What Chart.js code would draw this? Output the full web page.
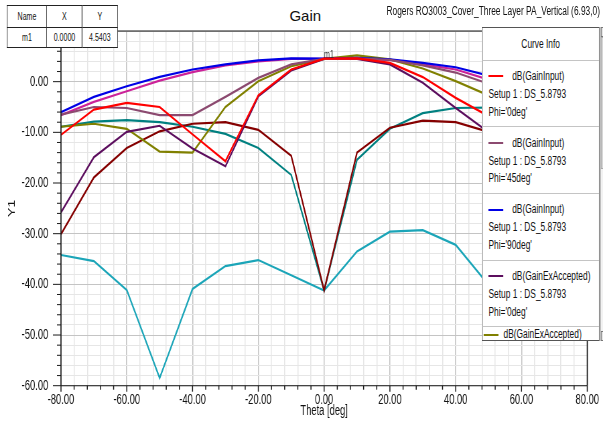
<!DOCTYPE html>
<html><head><meta charset="utf-8">
<script src="https://cdn.jsdelivr.net/npm/chart.js@4/dist/chart.umd.min.js"></script>
<style>
html,body{margin:0;padding:0;background:#fff;overflow:hidden;width:603px;height:423px;}
#wrap{position:absolute;left:0;top:0;width:900px;height:423px;transform:scaleX(0.67);transform-origin:0 0;font-family:"Liberation Sans",Arial,sans-serif;}
#cbox{position:absolute;left:0;top:0;width:900px;height:423px;}
#title{position:absolute;left:305.3px;top:6.5px;transform:translateX(-50%);font:15px/18px "Liberation Sans",Arial,sans-serif;color:#111;white-space:nowrap;}
#sub{position:absolute;right:4.5px;top:4.3px;font-size:12.5px;line-height:15px;color:#111;white-space:nowrap;}
#mk{position:absolute;left:10.4px;top:5px;border-collapse:collapse;table-layout:fixed;background:#fff;font-size:10.5px;}
#mk td{border:1px solid #222;border-left-width:1.5px;border-right-width:1.5px;text-align:center;padding:0;color:#111;line-height:12px;}
#mk tr.h td{height:20.7px;}
#mk tr.r td{height:19.6px;}
#m1{position:absolute;left:491px;top:47.5px;transform:translateX(-50%);font-size:10.5px;line-height:12px;color:#333;}
#leg{position:absolute;left:719px;top:26.7px;width:176px;height:314px;box-sizing:border-box;border:1px solid #555;border-left-width:1.5px;background:#fff;overflow:hidden;}
#leg .tx{position:absolute;white-space:nowrap;font-size:12.5px;line-height:15px;color:#111;}
#leg .sep{position:absolute;left:0;right:0;height:0;border-top:1px solid #c4c4c4;}
#leg .sw{position:absolute;height:2px;width:22.4px;}
#sb{position:absolute;left:894.5px;top:26.7px;width:12px;height:314px;box-sizing:border-box;background:#f2f2f2;border-left:1.5px solid #555;}
#sb .th{position:absolute;left:1px;right:0;top:10px;height:130px;background:#d6d6d6;border:1px solid #aaa;}
#sb .ar{position:absolute;left:1px;right:0;height:8px;background:#e6e6e6;border:1px solid #777;}
</style></head>
<body>
<div id="title">Gain</div>
<div id="wrap">
  <div id="cbox"><canvas id="c"></canvas></div>
  <div id="sub">Rogers RO3003_Cover_Three Layer PA_Vertical (6.93,0)</div>
  <table id="mk">
    <colgroup><col style="width:58.7px"><col style="width:53.3px"><col style="width:52.2px"></colgroup>
    <tr class="h"><td>Name</td><td>X</td><td>Y</td></tr>
    <tr class="r"><td>m1</td><td>0.0000</td><td>4.5403</td></tr>
  </table>
  <div id="m1">m1</div>
  <div id="leg"></div>
  <div id="sb"><div class="ar" style="top:0"></div><div class="th"></div><div class="ar" style="bottom:0"></div></div>
</div>
<script>
// ---- data ----
const theta = [-80,-70,-60,-50,-40,-30,-20,-10,0,10,20,30,40,50,60,70,80];
const gainInputPhi0  = [-10.5,-5.5,-4.2,-5.0,-10.4,-15.7,-2.7,2.4,4.54,4.6,3.7,0.9,-3.2,-6.8,-9.0,-7.0,-10.0];
const gainInputPhi45 = [-6.5,-5.0,-5.2,-6.6,-6.6,-3.0,0.75,3.4,4.5,4.6,4.3,3.2,1.8,-0.4,-3.0,-5.5,-6.5];
const gainInputPhi90 = [-6.0,-3.0,-0.9,0.95,2.4,3.4,4.2,4.6,4.54,4.7,4.4,3.7,2.85,1.2,-0.9,-3.0,-6.0];
const gainExAccPhi0  = [-25.8,-14.9,-9.9,-8.7,-13.2,-16.7,-2.9,2.2,4.5,4.5,3.4,-0.2,-5.2,-10.0,-13.0,-15.0,-26.0];
const gainExAccPhi45 = [-8.9,-8.3,-9.3,-13.8,-14.0,-5.0,0.1,3.05,4.5,5.2,4.4,2.6,0.1,-2.7,-6.0,-9.0,-9.0];
const gainExAccPhi90 = [-6.6,-4.0,-1.9,0.2,1.9,3.2,4.0,4.5,4.5,4.6,4.3,3.4,2.4,0.4,-1.5,-4.0,-6.6];
const curve7 = [-30.1,-18.9,-13.1,-9.8,-8.3,-8.0,-9.5,-14.6,-41.2,-14.0,-9.1,-7.7,-8.0,-9.9,-12.0,-18.0,-30.0];
const curve8 = [-8.9,-7.9,-7.6,-8.0,-8.9,-10.3,-13.1,-18.4,-41.2,-15.4,-9.3,-6.2,-5.2,-5.1,-5.5,-7.0,-8.9];
const curve9 = [-34.2,-35.4,-41.1,-58.5,-40.9,-36.4,-35.2,-38.2,-41.2,-33.5,-29.6,-29.3,-32.2,-40.1,-41.0,-36.0,-34.0];

const seriesNames = ["dB(GainInput) Phi='0deg'","dB(GainInput) Phi='45deg'","dB(GainInput) Phi='90deg'",
  "dB(GainExAccepted) Phi='0deg'","dB(GainExAccepted) Phi='45deg'","dB(GainExAccepted) Phi='90deg'",
  "curve 7","curve 8","curve 9"];
const seriesValues = [gainInputPhi0,gainInputPhi45,gainInputPhi90,gainExAccPhi0,gainExAccPhi45,gainExAccPhi90,curve7,curve8,curve9];
const seriesColors = ['#ff0000','#8c4a70','#0000e6','#5c0e5e','#808000','#cc2299','#850000','#008080','#1ba5b8'];

const legendEntries = [
  ['dB(GainInput)','Setup 1 : DS_5.8793',"Phi='0deg'",'#ff0000'],
  ['dB(GainInput)','Setup 1 : DS_5.8793',"Phi='45deg'",'#8c4a70'],
  ['dB(GainInput)','Setup 1 : DS_5.8793',"Phi='90deg'",'#0000e6'],
  ['dB(GainExAccepted)','Setup 1 : DS_5.8793',"Phi='0deg'",'#5c0e5e']
];

// ---- legend box (HTML) ----
const leg = document.getElementById('leg');
function addText(txt, left, top, center){
  const d = document.createElement('div'); d.className='tx'; d.textContent = txt;
  d.style.top = top+'px';
  if(center){ d.style.left='50%'; d.style.transform='translateX(-50%)'; } else d.style.left = left+'px';
  leg.appendChild(d); return d;
}
function addSep(top){ const s=document.createElement('div'); s.className='sep'; s.style.top=top+'px'; leg.appendChild(s); }
function addSw(left, top, color){ const s=document.createElement('div'); s.className='sw'; s.style.left=left+'px'; s.style.top=top+'px'; s.style.background=color; leg.appendChild(s); }
addText('Curve Info',0,9.5,true);
legendEntries.forEach((e,i)=>{
  const t0 = 32 + 66.7*i;
  addSep(t0);
  addSw(9, t0+15.5, e[3]);
  addText(e[0], 44.5, t0+9.3);
  addText(e[1], 9, t0+27.3);
  addText(e[2], 9, t0+45);
});
addSep(32+66.7*4);
addSw(2, 32+66.7*4+7.2, '#808000');
addText('dB(GainExAccepted)', 31.5, 32+66.7*4+0.7);

// ---- chart ----
const framePlugin = {
  id:'frame',
  afterDatasetsDraw(chart){
    const {ctx, chartArea:a, scales:{x,y}} = chart;
    ctx.save();
    ctx.strokeStyle = '#1a1a1a';
    ctx.lineWidth = 1.1;
    ctx.beginPath();
    ctx.moveTo(a.left,a.top); ctx.lineTo(a.right,a.top);
    ctx.moveTo(a.left,a.bottom); ctx.lineTo(a.right,a.bottom);
    ctx.stroke();
    ctx.lineWidth = 1.6;
    ctx.beginPath();
    ctx.moveTo(a.left,a.top); ctx.lineTo(a.left,a.bottom);
    ctx.moveTo(a.right,a.top); ctx.lineTo(a.right,a.bottom);
    ctx.stroke();
    ctx.lineWidth = 1;
    y.ticks.forEach(t=>{
      const py = y.getPixelForValue(t.value);
      const len = (t.value % 10 === 0) ? 12 : 6;
      ctx.beginPath(); ctx.moveTo(a.left-len, py); ctx.lineTo(a.left, py); ctx.stroke();
    });
    ctx.lineWidth = 1.5;
    x.ticks.forEach(t=>{
      const px = x.getPixelForValue(t.value);
      const len = (t.value % 20 === 0) ? 6 : 4;
      ctx.beginPath(); ctx.moveTo(px, a.bottom); ctx.lineTo(px, a.bottom+len); ctx.stroke();
    });
    ctx.restore();
  }
};

const datasets = seriesValues.map((vals,i)=>({
  label: seriesNames[i],
  data: theta.map((t,k)=>({x:t, y:vals[k]})),
  borderColor: seriesColors[i],
  backgroundColor: seriesColors[i],
  borderWidth: 2.2,
  pointRadius: 0,
  tension: 0,
  fill: false
}));

Chart.defaults.font.family = '"Liberation Sans", Arial, sans-serif';
new Chart(document.getElementById('c'), {
  type: 'line',
  data: { datasets },
  plugins: [framePlugin],
  options: {
    responsive: true,
    maintainAspectRatio: false,
    animation: false,
    layout: { padding: { top: 31, right: 19.4, bottom: 0, left: 0 } },
    plugins: { legend: { display: false }, tooltip: { enabled: false }, title: { display: false } },
    scales: {
      x: {
        type: 'linear', min: -80, max: 80,
        ticks: { stepSize: 4, autoSkip: false, maxRotation: 0, minRotation: 0, padding: 6,
          color: '#111', font: { size: 14 },
          callback: v => (v % 20 === 0) ? v.toFixed(2) : '' },
        grid: { drawTicks: false, lineWidth: 1.5,
          color: c => (c.tick && c.tick.value % 20 === 0) ? '#c4c4c4' : '#e6e6e6' },
        border: { display: false },
        title: { display: true, text: 'Theta [deg]', color: '#111', font: { size: 14 }, padding: { top: 0, bottom: 3 } },
        afterFit: s => { s.height = 37.3; }
      },
      y: {
        type: 'linear', min: -60, max: 10,
        ticks: { stepSize: 2, autoSkip: false, padding: 19, color: '#111', font: { size: 14 },
          callback: v => (v % 10 === 0 && v <= 0) ? v.toFixed(2) : '' },
        grid: { drawTicks: false, lineWidth: 1,
          color: c => (c.tick && c.tick.value % 10 === 0) ? '#c4c4c4' : '#e6e6e6' },
        border: { display: false },
        title: { display: true, text: 'Y1', color: '#111', font: { size: 14 }, padding: { top: 10, bottom: 0 } },
        afterFit: s => { s.width = 91; }
      }
    }
  }
});
</script>
</body></html>
